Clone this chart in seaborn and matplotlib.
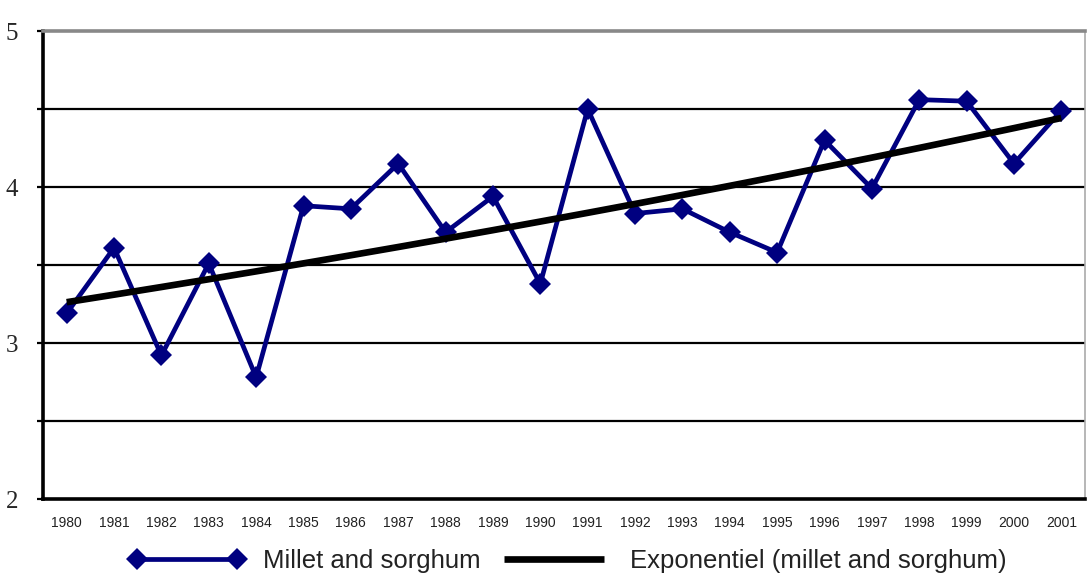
import numpy as np
import pandas as pd
import matplotlib
matplotlib.use("Agg")
import matplotlib.pyplot as plt
import seaborn as sns
from matplotlib.lines import Line2D

years = [str(y) for y in range(1980, 2002)]
millet_sorghum = [3.19, 3.61, 2.92, 3.51, 2.78, 3.88, 3.86, 4.15, 3.71, 3.94, 3.38,
                  4.50, 3.83, 3.86, 3.71, 3.58, 4.30, 3.99, 4.56, 4.55, 4.15, 4.49]
y_ticks = [2, 2.5, 3, 3.5, 4, 4.5, 5]
y_ticklabels = ["2", "", "3", "", "4", "", "5"]

series_label = "Millet and sorghum"
trend_label = "Exponentiel (millet and sorghum)"

sns.set_style("white")
plt.rcParams['font.family'] = ['Liberation Sans', 'DejaVu Sans']

idx = np.arange(len(years))
df = pd.DataFrame({"idx": idx, "value": millet_sorghum})
# exponential trend fitted to the data (as Excel does)
b, a = np.polyfit(idx, np.log(df["value"]), 1)
df["trend"] = np.exp(a + b * idx)

fig = plt.figure(figsize=(10.87, 5.77), dpi=100)
ax = fig.add_axes([43/1087, 78/577, 1042/1087, 468/577])

for g in [2.5, 3, 3.5, 4, 4.5]:
    ax.axhline(g, color="black", lw=1.6, zorder=1)

sns.lineplot(data=df, x="idx", y="value", ax=ax, color="#000080", lw=3.4,
             marker="D", markersize=11, markeredgewidth=0, zorder=3)
sns.lineplot(data=df, x="idx", y="trend", ax=ax, color="black", lw=4.8,
             solid_capstyle="butt", zorder=4)

ax.set_xlim(-0.5, len(years) - 0.5)
ax.set_ylim(2, 5)
ax.set_xlabel("")
ax.set_ylabel("")

ax.set_xticks(idx)
ax.set_xticklabels(years, fontsize=10, color="#222222")
ax.set_xticks(np.arange(-0.5, len(years)), minor=True)
ax.tick_params(axis="x", which="major", length=0, pad=12)
ax.tick_params(axis="x", which="minor", length=4, width=1.6, color="black", direction="out")

ax.set_yticks(y_ticks)
ax.set_yticklabels(y_ticklabels, fontsize=18, family="Liberation Serif")
ax.tick_params(axis="y", which="major", length=4, width=1.6, color="black",
               direction="out", pad=14, left=True)

for side in ["left", "bottom"]:
    ax.spines[side].set_color("black")
    ax.spines[side].set_linewidth(2.6)
ax.spines["top"].set_color("#888888")
ax.spines["top"].set_linewidth(2.6)
ax.spines["right"].set_color("#aaaaaa")
ax.spines["right"].set_linewidth(1.2)

handles = [
    Line2D([0, 1], [0, 0], color="#000080", lw=3.4, marker="D",
           markersize=11, markeredgewidth=0),
    Line2D([0, 1], [0, 0], color="black", lw=4.8, solid_capstyle="butt"),
]
leg = fig.legend(handles, [series_label, trend_label], loc="center",
                 bbox_to_anchor=(568/1087, 1 - 561/577), ncol=2, frameon=False,
                 fontsize=18.5, handlelength=4.5, columnspacing=0.6,
                 handletextpad=0.7, numpoints=2)
for t in leg.get_texts():
    t.set_color("#222222")

fig.savefig("out.png", dpi=100)
